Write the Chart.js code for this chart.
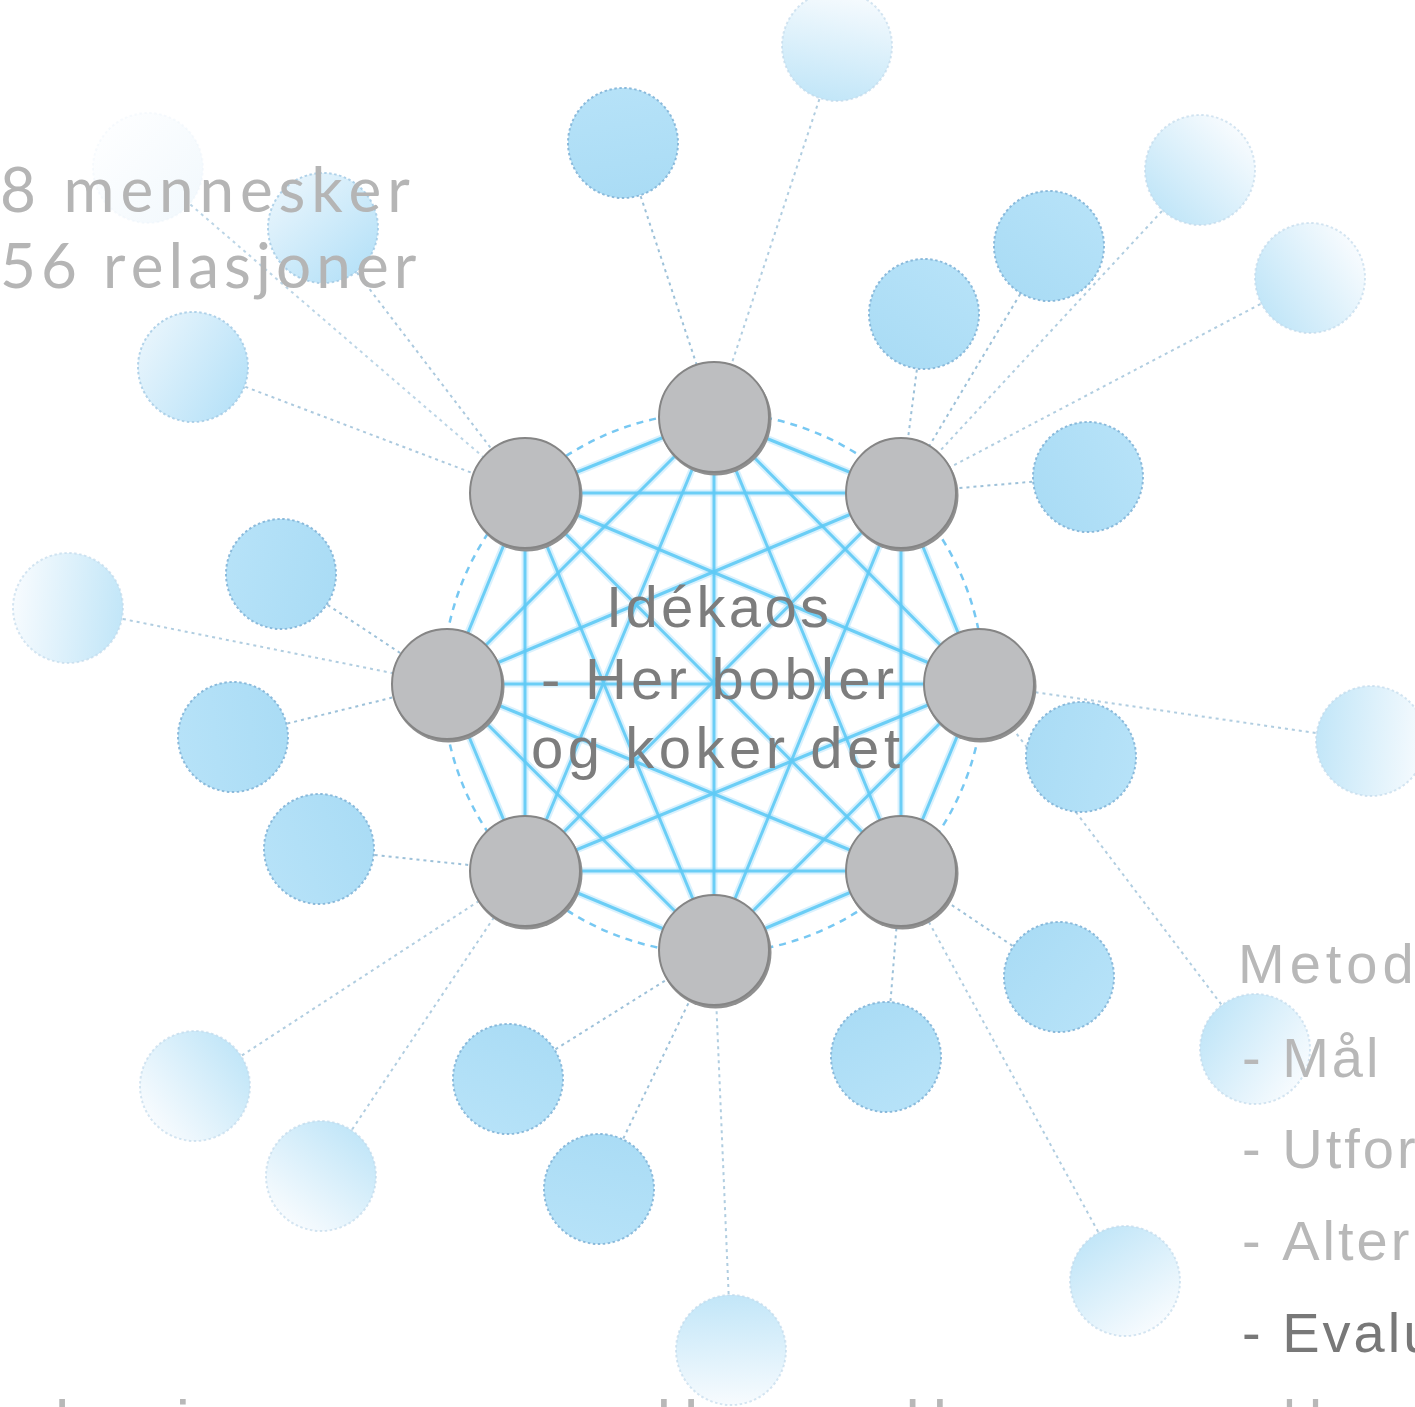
<!DOCTYPE html>
<html lang="no">
<head>
  <meta charset="UTF-8">
  <title>Idékaos – 8 mennesker, 56 relasjoner</title>
  <script src="https://cdn.jsdelivr.net/npm/chart.js"></script>
  <style>
    html, body { margin: 0; padding: 0; background: #ffffff; overflow: hidden; }
    #nettverk { display: block; }
  </style>
</head>
<body>
  <canvas id="nettverk" width="1415" height="1407"></canvas>
<script>
  // De 8 menneskene (grå noder) rundt midten
  const hubX = [714, 901, 979, 901, 714, 525, 447, 525];
  const hubY = [417, 493, 684, 871, 950, 871, 684, 493];

  // Blå noder utenfor, og hvilken grå node de henger på (-1 = ingen linje)
  const blueX = [623, 1049, 924, 1088, 281, 233, 319, 508, 599, 886, 1059, 1081];
  const blueY = [143, 246, 314, 477, 574, 737, 849, 1079, 1189, 1057, 977, 757];
  const blueHub = [0, 1, 1, 1, 6, 6, 5, 4, 4, 3, 3, -1];

  // Litt blekere blå
  const softX = [323, 193];
  const softY = [228, 367];
  const softHub = [7, 7];

  // Bleke noder som fader ut
  const paleX = [837, 1200, 1310, 68, 195, 321, 731, 1371, 1255, 1125];
  const paleY = [46, 170, 278, 608, 1086, 1176, 1350, 741, 1049, 1281];
  const paleHub = [0, 1, 1, 6, 5, 5, 4, 2, 2, 3];

  // Nesten usynlig node bak teksten
  const faintX = [148];
  const faintY = [168];
  const faintHub = [7];

  // Tekster
  const tittelLinjer = ['8 mennesker', '56 relasjoner'];
  const midtLinjer = ['Idékaos', '- Her bobler', 'og koker det'];
  const metodeLinjer = ['Metode', '- Mål', '- Utforske', '- Alternativer', '- Evaluere', '- Handle'];
  const bunnTekst = 'relasjoner og mellom alle';

  const W = 1415, H = 1407;
  const midX = hubX.reduce((a, b) => a + b, 0) / hubX.length;
  const midY = hubY.reduce((a, b) => a + b, 0) / hubY.length;

  // Lager et bilde av en node som brukes som pointStyle
  function lagNode(type, x, y) {
    const c = document.createElement('canvas');
    c.width = 130; c.height = 130;
    const g = c.getContext('2d');
    const m = 65, r = 55;
    if (type === 'hub') {
      g.beginPath(); g.arc(m + 1.5, m + 2.5, r + 1, 0, Math.PI * 2);
      g.fillStyle = '#8f8f8f'; g.fill();
      g.beginPath(); g.arc(m, m, r, 0, Math.PI * 2);
      g.fillStyle = '#bdbec0'; g.fill();
      g.lineWidth = 2; g.strokeStyle = '#858585'; g.stroke();
      return c;
    }
    // retning mot midten: blå side mot midten, hvit side utover
    const a = Math.atan2(midY - y, midX - x);
    const dx = Math.cos(a) * r, dy = Math.sin(a) * r;
    let fra, til, kant;
    if (type === 'blue') { fra = '#aadcf5'; til = '#b6e2f8'; kant = 'rgba(130,180,215,0.9)'; }
    if (type === 'soft') { fra = '#b8e2f8'; til = '#e6f4fc'; kant = 'rgba(160,200,228,0.8)'; }
    if (type === 'pale') { fra = '#c2e6f8'; til = '#f7fbfe'; kant = 'rgba(190,215,234,0.65)'; }
    if (type === 'faint') { fra = '#f3f9fd'; til = '#fdfeff'; kant = 'rgba(235,243,249,0.4)'; }
    const grad = g.createLinearGradient(m + dx, m + dy, m - dx, m - dy);
    grad.addColorStop(0, fra);
    grad.addColorStop(1, til);
    g.beginPath(); g.arc(m, m, r, 0, Math.PI * 2);
    g.fillStyle = grad; g.fill();
    g.setLineDash([2.5, 2.5]);
    g.lineWidth = 2; g.strokeStyle = kant; g.stroke();
    return c;
  }

  function punkter(xs, ys) {
    return xs.map((x, i) => ({ x: x, y: ys[i] }));
  }

  const datasets = [];

  // Prikkete linjer fra de blå nodene inn til de grå
  function lenker(xs, ys, hubs, farge) {
    for (let i = 0; i < xs.length; i++) {
      if (hubs[i] < 0) continue;
      datasets.push({
        data: [{ x: xs[i], y: ys[i] }, { x: hubX[hubs[i]], y: hubY[hubs[i]] }],
        showLine: true, pointRadius: 0, borderColor: farge,
        borderWidth: 2, borderDash: [3, 4], order: 6
      });
    }
  }
  lenker(blueX, blueY, blueHub, 'rgba(140,182,210,0.85)');
  lenker(softX, softY, softHub, 'rgba(150,188,214,0.8)');
  lenker(paleX, paleY, paleHub, 'rgba(150,188,214,0.75)');
  lenker(faintX, faintY, faintHub, 'rgba(160,195,220,0.7)');

  // Alle 28 relasjoner mellom de 8 menneskene
  for (let i = 0; i < hubX.length; i++) {
    for (let j = i + 1; j < hubX.length; j++) {
      const d = [{ x: hubX[i], y: hubY[i] }, { x: hubX[j], y: hubY[j] }];
      datasets.push({ data: d, showLine: true, pointRadius: 0, borderColor: 'rgba(170,225,250,0.45)', borderWidth: 7, order: 5 });
      datasets.push({ data: d, showLine: true, pointRadius: 0, borderColor: 'rgba(95,202,245,0.9)', borderWidth: 3, order: 4 });
    }
  }

  function nodeSett(xs, ys, type) {
    datasets.push({
      data: punkter(xs, ys), pointRadius: 56,
      pointStyle: xs.map((x, i) => lagNode(type, x, ys[i])), order: type === 'hub' ? 1 : 3
    });
  }
  nodeSett(faintX, faintY, 'faint');
  nodeSett(paleX, paleY, 'pale');
  nodeSett(softX, softY, 'soft');
  nodeSett(blueX, blueY, 'blue');
  nodeSett(hubX, hubY, 'hub');

  // Skriver tekst med jevn bokstavavstand
  function skriv(ctx, tekst, x, y, mellomrom) {
    for (const ch of tekst) {
      ctx.fillText(ch, x, y);
      x += ctx.measureText(ch).width + mellomrom;
    }
  }
  function tilpass(ctx, tekst, venstre, hoyre, y) {
    const naturlig = ctx.measureText(tekst).width;
    const ls = (hoyre - venstre - naturlig) / (tekst.length - 1);
    skriv(ctx, tekst, venstre, y, ls);
  }

  const bakgrunn = {
    id: 'bakgrunn',
    beforeDatasetsDraw(chart) {
      const ctx = chart.ctx, sx = chart.scales.x, sy = chart.scales.y;
      ctx.save();
      // nederste linje, delvis utenfor bildet
      ctx.font = '64px "Liberation Sans", Arial, sans-serif';
      ctx.fillStyle = '#b8b8b8';
      ctx.textBaseline = 'alphabetic';
      skriv(ctx, bunnTekst, sx.getPixelForValue(-28), sy.getPixelForValue(1446), 13);

      // stiplet ring rundt de grå nodene
      let rad = 0;
      for (let i = 0; i < hubX.length; i++) rad += Math.hypot(hubX[i] - midX, hubY[i] - midY);
      rad = rad / hubX.length + 4;
      const px = sx.getPixelForValue(midX), py = sy.getPixelForValue(midY);
      const pr = sx.getPixelForValue(midX + rad) - px;
      ctx.beginPath();
      ctx.arc(px, py, pr, 0, Math.PI * 2);
      ctx.setLineDash([7, 6]);
      ctx.lineWidth = 2.5;
      ctx.strokeStyle = 'rgba(95,190,240,0.85)';
      ctx.stroke();
      ctx.restore();
    },
    afterDatasetsDraw(chart) {
      const ctx = chart.ctx, sx = chart.scales.x, sy = chart.scales.y;
      const px = v => sx.getPixelForValue(v), py = v => sy.getPixelForValue(v);
      ctx.save();
      ctx.textBaseline = 'alphabetic';

      ctx.font = '62px Lato, "Liberation Sans", sans-serif';
      ctx.fillStyle = '#b5b5b5';
      tilpass(ctx, tittelLinjer[0], px(0), px(408), py(212));
      tilpass(ctx, tittelLinjer[1], px(0), px(415), py(288));

      ctx.font = '58px "Liberation Sans", Arial, sans-serif';
      ctx.fillStyle = '#7d7d7d';
      tilpass(ctx, midtLinjer[0], px(606), px(829), py(627));
      tilpass(ctx, midtLinjer[1], px(541), px(894), py(699));
      tilpass(ctx, midtLinjer[2], px(531), px(900), py(768));

      ctx.font = '56px "Liberation Sans", Arial, sans-serif';
      const linjeY = [983, 1077, 1168, 1260, 1352, 1437];
      for (let i = 0; i < metodeLinjer.length; i++) {
        ctx.fillStyle = i === 4 ? '#787878' : '#b8b8b8';
        skriv(ctx, metodeLinjer[i], px(i === 0 ? 1238 : 1242), py(linjeY[i]), i === 0 ? 5 : 3);
      }
      ctx.restore();
    }
  };

  new Chart(document.getElementById('nettverk'), {
    type: 'scatter',
    data: { datasets: datasets },
    options: {
      responsive: false,
      animation: false,
      events: [],
      layout: { padding: 0, autoPadding: false },
      plugins: { legend: { display: false }, tooltip: { enabled: false } },
      scales: {
        x: { type: 'linear', min: 0, max: W, display: false },
        y: { type: 'linear', min: 0, max: H, reverse: true, display: false }
      }
    },
    plugins: [bakgrunn]
  });
</script>
</body>
</html>
